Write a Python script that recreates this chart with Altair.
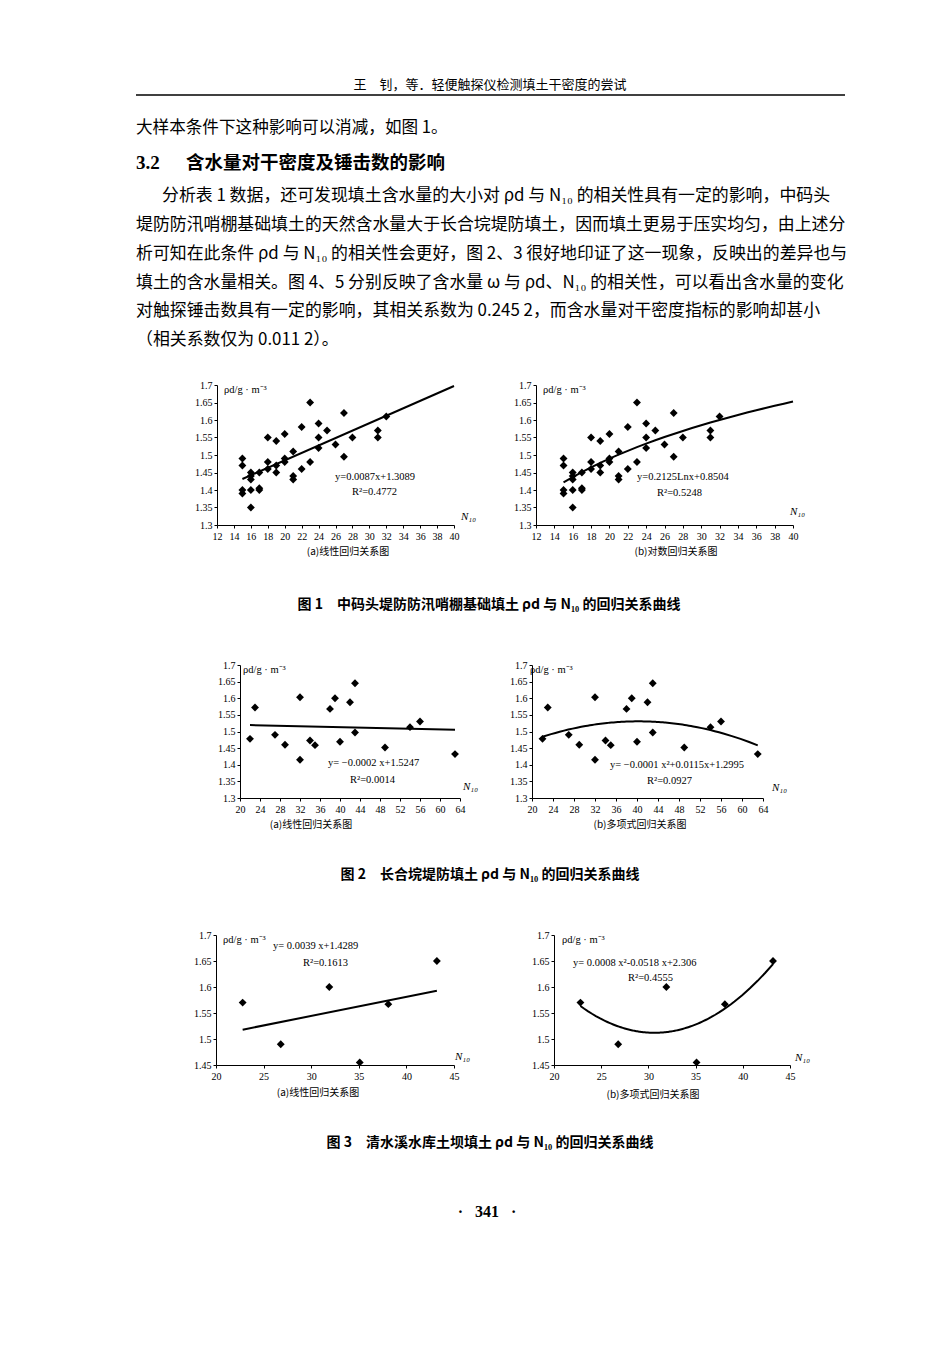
import altair as alt
import pandas as pd

# ---------------- data ----------------
fig1_n = [15, 15, 15, 15, 16, 16, 16, 16, 16, 17, 17, 17, 18, 18, 18, 19, 19, 19,
          20, 20, 20, 21, 21, 21, 22, 22, 23, 23, 24, 24, 24, 25, 26, 27, 27, 28,
          31, 31, 32]
fig1_rho = [1.49, 1.47, 1.40, 1.39, 1.45, 1.44, 1.43, 1.40, 1.35, 1.45, 1.405, 1.40,
            1.55, 1.48, 1.46, 1.54, 1.47, 1.45, 1.56, 1.49, 1.48, 1.51, 1.44, 1.43,
            1.58, 1.46, 1.65, 1.48, 1.59, 1.55, 1.52, 1.57, 1.53, 1.62, 1.495, 1.55,
            1.57, 1.55, 1.61]

fig2_n = [22, 23, 27, 29, 32, 32, 34, 35, 38, 39, 40, 42, 43, 43, 49, 54, 56, 63]
fig2_rho = [1.478, 1.572, 1.49, 1.46, 1.603, 1.415, 1.473, 1.459, 1.568, 1.60,
            1.469, 1.588, 1.645, 1.497, 1.452, 1.513, 1.53, 1.432]

fig3_n = [22.8, 26.8, 31.9, 35.1, 38.1, 43.2]
fig3_rho = [1.57, 1.49, 1.60, 1.455, 1.567, 1.65]

x_ticks_1 = [12, 14, 16, 18, 20, 22, 24, 26, 28, 30, 32, 34, 36, 38, 40]
x_ticks_2 = [20, 24, 28, 32, 36, 40, 44, 48, 52, 56, 60, 64]
x_ticks_3 = [20, 25, 30, 35, 40, 45]
y_ticks_12 = [1.3, 1.35, 1.4, 1.45, 1.5, 1.55, 1.6, 1.65, 1.7]
y_ticks_3 = [1.45, 1.5, 1.55, 1.6, 1.65, 1.7]

header_text = "王\u3000钊，等．轻便触探仪检测填土干密度的尝试"
first_line = "大样本条件下这种影响可以消减，如图 1。"
section_no = "3.2"
section_title = "含水量对干密度及锤击数的影响"
para_lines = [
    "分析表 1 数据，还可发现填土含水量的大小对 ρd 与 N₁₀ 的相关性具有一定的影响，中码头",
    "堤防防汛哨棚基础填土的天然含水量大于长合垸堤防填土，因而填土更易于压实均匀，由上述分",
    "析可知在此条件 ρd 与 N₁₀ 的相关性会更好，图 2、3 很好地印证了这一现象，反映出的差异也与",
    "填土的含水量相关。图 4、5 分别反映了含水量 ω 与 ρd、N₁₀ 的相关性，可以看出含水量的变化",
    "对触探锤击数具有一定的影响，其相关系数为 0.245 2，而含水量对干密度指标的影响却甚小",
    "（相关系数仅为 0.011 2）。",
]
captions = [
    "图 1\u3000中码头堤防防汛哨棚基础填土 ρd 与 N₁₀ 的回归关系曲线",
    "图 2\u3000长合垸堤防填土 ρd 与 N₁₀ 的回归关系曲线",
    "图 3\u3000清水溪水库土坝填土 ρd 与 N₁₀ 的回归关系曲线",
]
subtitles = ["(a)线性回归关系图", "(b)对数回归关系图", "(a)线性回归关系图",
             "(b)多项式回归关系图", "(a)线性回归关系图", "(b)多项式回归关系图"]
equations = ["y=0.0087x+1.3089", "y=0.2125Lnx+0.8504", "y= −0.0002 x+1.5247",
             "y= −0.0001 x²+0.0115x+1.2995", "y= 0.0039 x+1.4289",
             "y= 0.0008 x²-0.0518 x+2.306"]
r2_texts = ["R²=0.4772", "R²=0.5248", "R²=0.0014", "R²=0.0927", "R²=0.1613", "R²=0.4555"]
y_title = "ρd/g · m⁻³"
x_title = "N₁₀"
page_no = "·\u00a0\u00a0\u00a0341\u00a0\u00a0\u00a0·"

# ---------------- helpers ----------------
CJK = "Noto Sans CJK SC"
SERIF = "Liberation Serif"
one = pd.DataFrame({"k": [0]})


def txt(s, x, y, size, font=CJK, weight="normal", align="left", style="normal"):
    return alt.Chart(one).mark_text(
        text=s, font=font, fontSize=size, fontWeight=weight, align=align,
        fontStyle=style, baseline="middle", color="black"
    ).encode(x=alt.value(x), y=alt.value(y))


def spacer(w, h):
    return alt.Chart(one).mark_text(text="").encode(
        x=alt.value(0), y=alt.value(0)).properties(width=w, height=h)


def scatter(n, rho, xdom, xticks, ydom, yticks, w, h, reg, notes):
    df = pd.DataFrame({"N": n, "rho": rho})
    base = alt.Chart(df)
    xs = alt.Scale(domain=xdom, nice=False, zero=False)
    ys = alt.Scale(domain=ydom, nice=False, zero=False)
    xa = alt.Axis(values=xticks, labelFlush=False, labelOverlap=False,
                  labelPadding=3, tickSize=3, grid=False)
    ya = alt.Axis(values=yticks, format=".2~f", labelFlush=False, labelOverlap=False,
                  labelPadding=2, tickSize=3, grid=False)
    pts = base.mark_point(shape="diamond", filled=True, size=62, color="black",
                          opacity=1).encode(
        x=alt.X("N:Q", scale=xs, axis=xa, title=None),
        y=alt.Y("rho:Q", scale=ys, axis=ya, title=None))
    line = base.transform_regression("N", "rho", **reg).mark_line(
        color="black", strokeWidth=2).encode(
        x=alt.X("N:Q", scale=xs, axis=xa, title=None),
        y=alt.Y("rho:Q", scale=ys, axis=ya, title=None))
    return alt.layer(pts, line, *notes).properties(width=w, height=h)


def notes(i, ytp, nxp, eqp, r2p):
    return [
        txt(y_title, ytp[0], ytp[1], 10.5, font=SERIF),
        txt(x_title, nxp[0], nxp[1], 11, font=SERIF, style="italic"),
        txt(equations[i], eqp[0], eqp[1], 10.5, font=SERIF),
        txt(r2_texts[i], r2p[0], r2p[1], 10.5, font=SERIF),
    ]


# ---------------- top text block ----------------
band0_layers = [
    txt(header_text, 482, 77, 13, align="center"),
    alt.Chart(one).mark_rule(color="black", strokeWidth=1.6).encode(
        x=alt.value(128), x2=alt.value(837), y=alt.value(87)),
    txt(first_line, 128, 120, 16.6),
    txt(section_no, 128, 155, 19, font=SERIF, weight="bold"),
    txt(section_title, 178, 155, 18.5, weight="bold"),
]
para_y = [188, 217, 246, 275, 303, 332]
for i, (line, yy) in enumerate(zip(para_lines, para_y)):
    band0_layers.append(txt(line, 154 if i == 0 else 128, yy, 16.9))
band0 = alt.layer(*band0_layers).properties(width=934, height=371)

# ---------------- rows (left cell carries the captions below the plots) ----------------
lead1 = alt.layer(
    txt(subtitles[0], 340, 167, 10, align="center"),
    txt(subtitles[1], 668, 167, 10, align="center"),
    txt(captions[0], 481, 220, 14, weight="bold", align="center"),
).properties(width=209, height=274)

lead2 = alt.layer(
    txt(subtitles[2], 303, 160, 10, align="center"),
    txt(subtitles[3], 632, 160, 10, align="center"),
    txt(captions[1], 482, 210, 14, weight="bold", align="center"),
).properties(width=232, height=264)

lead3 = alt.layer(
    txt(subtitles[4], 310, 158, 10, align="center"),
    txt(subtitles[5], 645, 160, 10, align="center"),
    txt(captions[2], 482, 208, 14, weight="bold", align="center"),
    txt(page_no, 479, 277, 16, font=SERIF, weight="bold", align="center"),
).properties(width=208, height=405)

c1a = scatter(fig1_n, fig1_rho, [12, 40], x_ticks_1, [1.3, 1.7], y_ticks_12, 237, 140,
              dict(method="linear", extent=[15, 40]),
              notes(0, (7, 5), (244, 132), (118, 92), (135, 107)))
c1b = scatter(fig1_n, fig1_rho, [12, 40], x_ticks_1, [1.3, 1.7], y_ticks_12, 257, 140,
              dict(method="log", extent=[15, 40]),
              notes(1, (7, 5), (254, 127), (101, 92), (121, 108)))
row1 = alt.hconcat(lead1, c1a, spacer(82, 140), c1b, spacing=0, bounds="flush")

c2a = scatter(fig2_n, fig2_rho, [20, 64], x_ticks_2, [1.3, 1.7], y_ticks_12, 220, 133,
              dict(method="linear"),
              notes(2, (3, 5), (223, 122), (88, 98), (110, 115)))
c2b = scatter(fig2_n, fig2_rho, [20, 64], x_ticks_2, [1.3, 1.7], y_ticks_12, 231, 133,
              dict(method="poly", order=2),
              notes(3, (-2, 5), (240, 123), (78, 100), (115, 116)))
row2 = alt.hconcat(lead2, c2a, spacer(72, 133), c2b, spacing=0, bounds="flush")

c3a = scatter(fig3_n, fig3_rho, [20, 45], x_ticks_3, [1.45, 1.7], y_ticks_3, 238, 130,
              dict(method="linear"),
              notes(4, (7, 5), (239, 122), (57, 11), (87, 28)))
c3b = scatter(fig3_n, fig3_rho, [20, 45], x_ticks_3, [1.45, 1.7], y_ticks_3, 236, 130,
              dict(method="poly", order=2),
              notes(5, (8, 5), (241, 123), (19, 28), (74, 43)))
row3 = alt.hconcat(lead3, c3a, spacer(100, 130), c3b, spacing=0, bounds="flush")

chart = alt.vconcat(band0, row1, row2, row3, spacing=0, bounds="full").properties(
    padding=0, background="white"
).configure_view(stroke=None).configure_axis(
    labelFont=SERIF, labelFontSize=10, labelColor="black", labelOverlap=False,
    domainColor="black", tickColor="black", domainWidth=1, tickWidth=1
)

chart.save("out.html", embed_options={"renderer": "svg", "actions": False})
